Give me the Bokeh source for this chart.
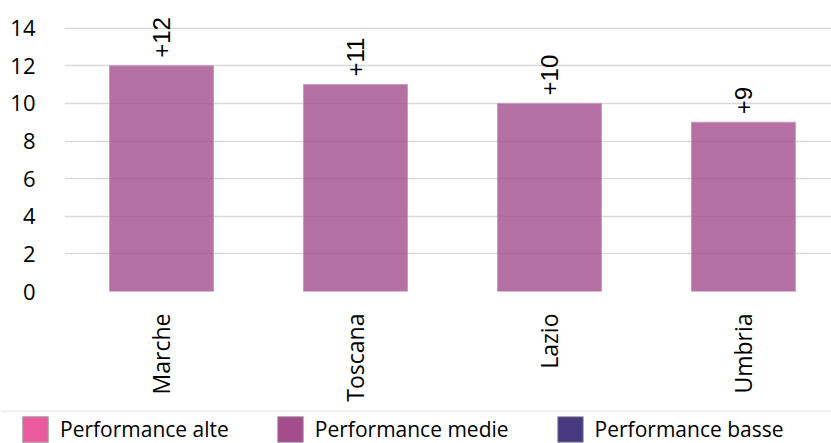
from math import pi

from bokeh.core.properties import value
from bokeh.embed import file_html
from bokeh.layouts import column
from bokeh.models import (ColumnDataSource, FixedTicker, Legend, LegendItem,
                          Range1d, Span)
from bokeh.plotting import figure
from bokeh.resources import INLINE

# Regional change (points)
regions = ["Marche", "Toscana", "Lazio", "Umbria"]
changes = [12, 11, 10, 9]
y_ticks = [0, 2, 4, 6, 8, 10, 12, 14]

legend_labels = ["Performance alte", "Performance medie", "Performance basse"]
legend_colors = ["#EA5A9E", "#A34D8C", "#473A80"]

positions = [i + 0.5 for i in range(len(regions))]
source = ColumnDataSource(dict(
    x=positions,
    top=changes,
    label=["+%d" % v for v in changes],
))

p = figure(
    width=831, height=405,
    output_backend="svg", toolbar_location=None,
    x_range=Range1d(0, 3.954), y_range=Range1d(0, 15.47),
    min_border_left=64, min_border_right=0,
    min_border_top=0, min_border_bottom=114,
    outline_line_color=None, background_fill_color="white",
    border_fill_color="white",
)
p.frame_align = False

# gridlines sit underneath the semi-transparent bars
p.xgrid.grid_line_color = None
p.ygrid.grid_line_color = "#D9D9D9"
p.ygrid.grid_line_width = 1.5
p.ygrid.ticker = FixedTicker(ticks=y_ticks)

p.vbar(x="x", top="top", width=0.536, source=source,
       fill_color="#A34D8C", fill_alpha=0.8,
       line_color="#C99ABD", line_width=1)

p.text(x="x", y="top", text="label", source=source,
       angle=pi / 2, y_offset=-8,
       text_align="left", text_baseline="middle",
       text_font=value("Liberation Sans"),
       text_font_size="24px", text_color="#000000")

# y axis
p.yaxis.ticker = FixedTicker(ticks=y_ticks)
p.yaxis.axis_line_color = None
p.yaxis.major_tick_line_color = None
p.yaxis.minor_tick_line_color = None
p.yaxis.major_label_standoff = 23
p.yaxis.major_label_text_font = "Open Sans"
p.yaxis.major_label_text_font_size = "22px"
p.yaxis.major_label_text_color = "#000000"

# x axis with region names, reading upwards
p.xaxis.ticker = FixedTicker(ticks=positions)
p.xaxis.major_label_overrides = {pos: name for pos, name in zip(positions, regions)}
p.xaxis.major_label_orientation = pi / 2
p.xaxis.axis_line_color = None
p.xaxis.major_tick_line_color = None
p.xaxis.minor_tick_line_color = None
p.xaxis.major_label_standoff = 16
p.xaxis.major_label_text_font = "Open Sans"
p.xaxis.major_label_text_font_size = "23px"
p.xaxis.major_label_text_color = "#000000"

# legend strip underneath, spanning the full width
lg = figure(
    width=831, height=38,
    output_backend="svg", toolbar_location=None,
    x_range=Range1d(0, 1), y_range=Range1d(0, 1),
    x_axis_location=None, y_axis_location=None,
    min_border_left=0, min_border_right=0,
    min_border_top=0, min_border_bottom=0,
    outline_line_color=None, background_fill_color="white",
    border_fill_color="white",
)
lg.frame_align = False
lg.grid.visible = False
lg.add_layout(Span(location=0.85, dimension="width",
                   line_color="#EBEBEB", line_width=1.5))

# swatch renderers carry no visible data; they only feed the legend
swatch_src = ColumnDataSource(dict(x=[float("nan")], top=[float("nan")]))
items = []
for lab, col in zip(legend_labels, legend_colors):
    r = lg.vbar(x="x", top="top", width=0.5, source=swatch_src,
                fill_color=col, line_color="#A6A6A6")
    items.append(LegendItem(label=lab, renderers=[r]))

legend = Legend(
    items=items, orientation="horizontal", location=(19, -2),
    glyph_width=32, glyph_height=32, label_standoff=9, spacing=45,
    label_text_font="Open Sans", label_text_font_size="21px",
    label_text_color="#000000", label_height=32,
    padding=0, margin=0, border_line_color=None,
    background_fill_alpha=0,
)
lg.add_layout(legend, "center")

open("out.html", "w").write(file_html(column(p, lg, spacing=0), INLINE))
